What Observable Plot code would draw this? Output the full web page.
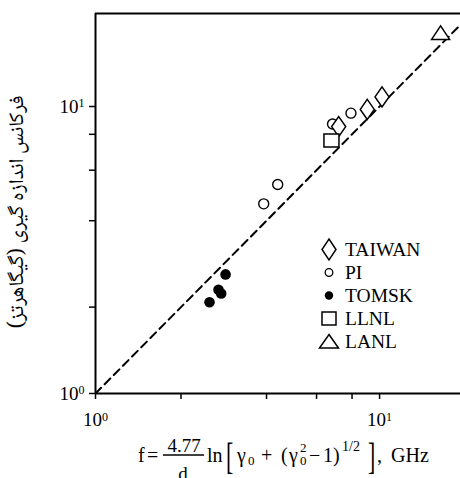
<!DOCTYPE html>
<html>
<head>
<meta charset="utf-8">
<script src="https://cdn.jsdelivr.net/npm/d3@7"></script>
<script src="https://cdn.jsdelivr.net/npm/@observablehq/plot@0.6"></script>
<style>
  html, body { margin: 0; padding: 0; background: white; }
  #wrap { position: relative; width: 460px; height: 478px; overflow: hidden; font-family: 'Liberation Serif', serif; color: black; }
  #ylabel { position: absolute; left: 19px; top: 212px; transform: translate(-50%, -50%) rotate(-90deg); white-space: nowrap; font-family: 'Noto Naskh Arabic', 'DejaVu Sans', sans-serif; font-size: 21px; line-height: 1.2; }
  #legend { position: absolute; left: 318px; top: 238px; font-family: 'Liberation Serif', serif; font-size: 19.5px; }
  #legend .row { display: flex; align-items: center; height: 23px; }
  #legend svg { width: 22px; height: 23px; margin-right: 5px; overflow: visible; }
  #formula { position: absolute; left: 0; top: 435px; }
  #formula text { font-family: 'Liberation Serif', serif; fill: black; }
</style>
</head>
<body>
<div id="wrap">
  <div id="chart"></div>
  <div id="ylabel" dir="rtl">فرکانس اندازه گیری (گیگاهرتز)</div>
  <div id="legend"></div>
  <svg id="formula" width="460" height="43" viewBox="0 435 460 43">
    <text x="138" y="462" font-size="20">f</text>
    <text x="147" y="462" font-size="20">=</text>
    <text x="184" y="451.5" font-size="19" text-anchor="middle">4.77</text>
    <line x1="163" x2="204" y1="455" y2="455" stroke="black" stroke-width="1.3"></line>
    <text x="183" y="480" font-size="19" text-anchor="middle">d</text>
    <text x="207" y="462" font-size="20">ln</text>
    <text transform="translate(226,469) scale(1,1.75)" font-size="22">[</text>
    <text x="237" y="462" font-size="20">γ</text>
    <text x="248" y="465" font-size="13">0</text>
    <text x="261" y="462" font-size="20">+</text>
    <text x="281" y="462" font-size="20">(</text>
    <text x="289" y="462" font-size="20">γ</text>
    <text x="300" y="452" font-size="13">2</text>
    <text x="300" y="465" font-size="13">0</text>
    <text x="309" y="462" font-size="20">−</text>
    <text x="323" y="462" font-size="20">1)</text>
    <text x="342" y="450.5" font-size="14">1/2</text>
    <text transform="translate(368,469) scale(1,1.75)" font-size="22">]</text>
    <text x="377" y="462" font-size="20">,</text>
    <text x="391" y="462" font-size="20">GHz</text>
  </svg>
</div>
<script>
// ---- data ----
const taiwanX = [7.18, 9.05, 10.2];
const taiwanY = [8.51, 9.77, 10.8];
const piX = [6.83, 7.93, 3.91, 4.38];
const piY = [8.69, 9.48, 4.58, 5.35];
const tomskX = [2.87, 2.71, 2.77, 2.52];
const tomskY = [2.60, 2.30, 2.23, 2.08];
const llnlX = [6.77];
const llnlY = [7.61];
const lanlX = [16.4];
const lanlY = [17.9];
const seriesNames = ["TAIWAN", "PI", "TOMSK", "LLNL", "LANL"];
const xTicks = [1, 2, 4, 6, 8, 10];
const yTicks = [1, 2, 4, 6, 8, 10];
const xDomain = [1, 19.27];
const yDomain = [1, 21.09];
const diag = [1, 25];

// ---- custom symbols ----
const diamondSym = { draw(ctx) { ctx.moveTo(0, -10); ctx.lineTo(7, 0); ctx.lineTo(0, 10); ctx.lineTo(-7, 0); ctx.closePath(); } };
const squareSym = { draw(ctx) { ctx.moveTo(-7.5, -6.5); ctx.lineTo(7.5, -6.5); ctx.lineTo(7.5, 6.5); ctx.lineTo(-7.5, 6.5); ctx.closePath(); } };
const triSym = { draw(ctx) { ctx.moveTo(0, -8); ctx.lineTo(9, 5.5); ctx.lineTo(-9, 5.5); ctx.closePath(); } };

const zip = (xs, ys) => xs.map((x, i) => ({x, y: ys[i]}));
const fmt = d => d === 1 ? "10^0" : d === 10 ? "10^1" : "";

const plot = Plot.plot({
  width: 460, height: 435,
  marginLeft: 95, marginRight: 0, marginTop: 13, marginBottom: 42,
  x: {type: "log", domain: xDomain},
  y: {type: "log", domain: yDomain},
  style: {fontFamily: "'Liberation Serif', serif", fontSize: "19px", color: "black", background: "white"},
  marks: [
    Plot.line(diag, {x: d => d, y: d => d, stroke: "black", strokeWidth: 2, strokeDasharray: "8,5", clip: true}),
    Plot.ruleY([yDomain[1]], {stroke: "black", strokeWidth: 2}),
    Plot.ruleY([1], {stroke: "black", strokeWidth: 2}),
    Plot.ruleX([1], {stroke: "black", strokeWidth: 2}),
    Plot.axisX(xTicks, {tickFormat: fmt, tickSize: 6, tickPadding: 13, strokeWidth: 1.5, label: null}),
    Plot.axisY(yTicks, {tickFormat: fmt, tickSize: 6, tickPadding: 5, strokeWidth: 1.5, label: null}),
    Plot.dot(zip(piX, piY), {x: "x", y: "y", symbol: "circle", r: 5, stroke: "black", strokeWidth: 1.4, fill: "none"}),
    Plot.dot(zip(tomskX, tomskY), {x: "x", y: "y", symbol: "circle", r: 5.3, fill: "black", stroke: "none"}),
    Plot.dot(zip(taiwanX, taiwanY), {x: "x", y: "y", symbol: diamondSym, r: 6, stroke: "black", strokeWidth: 1.5, fill: "white"}),
    Plot.dot(zip(llnlX, llnlY), {x: "x", y: "y", symbol: squareSym, r: 6, stroke: "black", strokeWidth: 1.5, fill: "white"}),
    Plot.dot(zip(lanlX, lanlY), {x: "x", y: "y", symbol: triSym, r: 6, stroke: "black", strokeWidth: 1.5, fill: "white"})
  ]
});
document.getElementById("chart").appendChild(plot);

// superscripts for tick labels
plot.querySelectorAll("text").forEach(t => {
  const s = t.textContent;
  if (s.includes("^")) {
    const [base, exp] = s.split("^");
    t.textContent = base;
    const ts = document.createElementNS("http://www.w3.org/2000/svg", "tspan");
    ts.setAttribute("dy", "-0.45em");
    ts.setAttribute("font-size", "12px");
    ts.textContent = exp;
    t.appendChild(ts);
  }
});

// legend
const legendSyms = [
  '<path d="M11,1 L18,11.5 L11,22 L4,11.5 Z" fill="white" stroke="black" stroke-width="1.5"/>',
  '<circle cx="11" cy="11.5" r="3.8" fill="none" stroke="black" stroke-width="1.3"/>',
  '<circle cx="11" cy="11.5" r="4.2" fill="black"/>',
  '<rect x="4" y="5" width="14" height="13" fill="white" stroke="black" stroke-width="1.5"/>',
  '<path d="M11,4.5 L20.5,18 L1.5,18 Z" fill="white" stroke="black" stroke-width="1.5"/>'
];
const leg = document.getElementById("legend");
seriesNames.forEach((n, i) => {
  const row = document.createElement("div");
  row.className = "row";
  row.innerHTML = `<svg viewBox="0 0 22 23">${legendSyms[i]}</svg><span>${n}</span>`;
  leg.appendChild(row);
});
</script>
</body>
</html>
